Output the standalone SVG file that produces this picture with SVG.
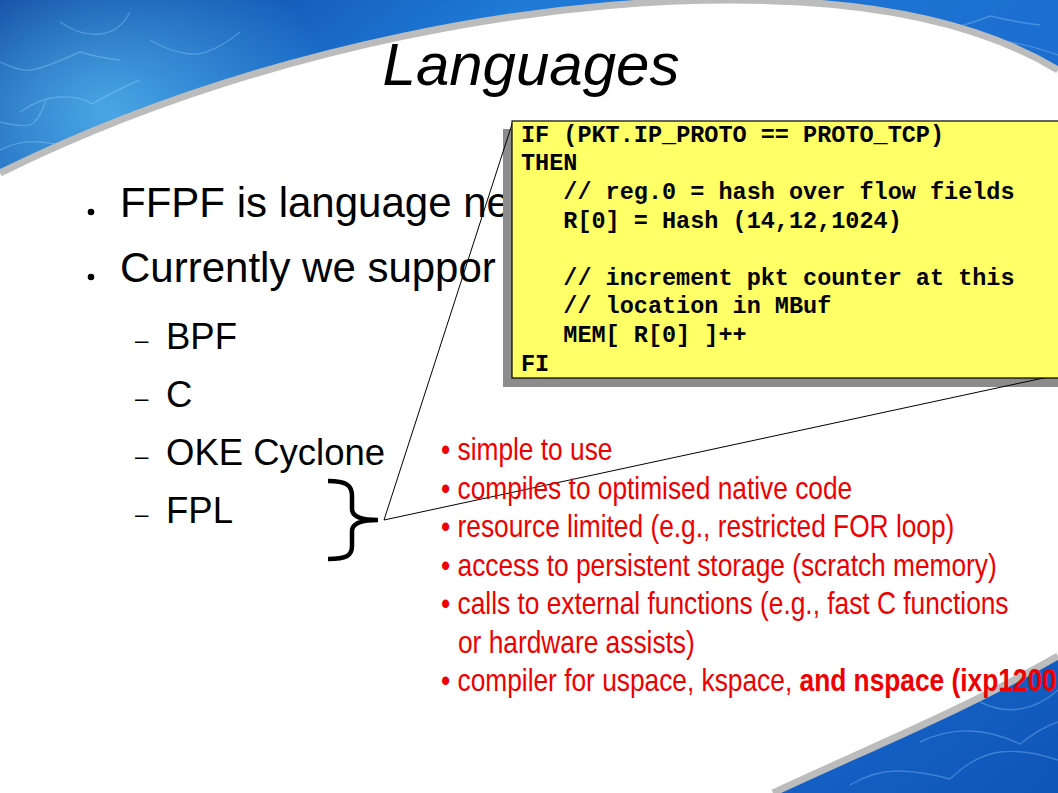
<svg xmlns="http://www.w3.org/2000/svg" width="1058" height="793" viewBox="0 0 1058 793">
<style>
.main{font-family:"Liberation Sans",Arial,sans-serif;fill:#000}
.code{font-family:"Liberation Mono","Courier New",monospace;font-weight:bold;font-size:23.5px;fill:#000}
.red{font-family:"Liberation Sans",Arial,sans-serif;font-size:32px;fill:#ee0000}
.caus{fill:none;stroke:#a8e0ff;stroke-width:1.4;stroke-opacity:0.3;stroke-linejoin:round}
.rim{fill:none;stroke:#bcbcbc;stroke-width:7}
.conn{stroke:#000;stroke-width:1;fill:none}
</style>
<defs>
<linearGradient id="sea" x1="0" y1="0" x2="1" y2="1">
<stop offset="0" stop-color="#0a3f98"/>
<stop offset="0.25" stop-color="#1f7ad8"/>
<stop offset="0.5" stop-color="#1c6fd0"/>
<stop offset="0.75" stop-color="#1a6ad0"/>
<stop offset="1" stop-color="#0f55b8"/>
</linearGradient>
<radialGradient id="glow" cx="0.1" cy="0.14" r="0.22">
<stop offset="0" stop-color="#5cc0f5" stop-opacity="0.75"/>
<stop offset="1" stop-color="#5cc0f5" stop-opacity="0"/>
</radialGradient>
</defs>
<g id="background">
<rect x="0" y="0" width="1058" height="793" fill="url(#sea)"/>
<rect x="0" y="0" width="1058" height="793" fill="url(#glow)"/>
<path class="caus" d="M0,150 Q20,140 40,142 T75,148 Q95,130 110,122 M20,112 Q40,98 60,97 T92,104 Q120,88 140,80 M0,62 Q20,72 32,70 T80,52 Q100,58 120,60 M150,40 Q170,52 190,54 T240,32 M60,22 Q80,36 100,34 T130,12 M0,122 Q25,128 32,124 T46,100"/>
<path class="caus" d="M900,20 Q920,30 940,29 T990,16 Q1015,22 1040,25 M960,50 Q980,40 1000,41 T1058,55"/>
<path class="caus" d="M850,785 Q875,770 900,771 T950,779 Q975,755 1000,752 T1058,760 M920,742 Q945,730 970,731 T1020,744 Q1040,728 1058,722 M980,702 Q1000,712 1020,709 T1058,690"/>
<path d="M0,173 C250,50 560,-12 800,2 C920,9 1000,35 1058,70 L1058,656 C960,712 860,752 773,793 L0,793 Z" fill="#fff"/>
<path class="rim" d="M0,173 C250,50 560,-12 800,2 C920,9 1000,35 1058,70"/>
<path class="rim" d="M1058,656 C960,712 860,752 773,793"/>
</g>
<g id="title">
<text class="main" x="531" y="85" font-size="60" font-style="italic" text-anchor="middle">Languages</text>
</g>
<g id="bullets">
<circle cx="91" cy="212" r="3.3"/>
<text class="main" x="120" y="217" font-size="42">FFPF is language ne</text>
<circle cx="91" cy="277" r="3.3"/>
<text class="main" x="120" y="282" font-size="42">Currently we suppor</text>
<text class="main" x="135" y="348" font-size="24">–</text>
<text class="main" x="166" y="349" font-size="36.5">BPF</text>
<text class="main" x="135" y="406" font-size="24">–</text>
<text class="main" x="166" y="407" font-size="36.5">C</text>
<text class="main" x="135" y="464" font-size="24">–</text>
<text class="main" x="166" y="465" font-size="36.5">OKE Cyclone</text>
<text class="main" x="135" y="522" font-size="24">–</text>
<text class="main" x="166" y="523" font-size="36.5">FPL</text>
</g>
<g id="brace">
<path d="M328,481 C346,481 352,485 352,496 L352,509 C352,516 360,520 378,520 C360,520 352,524 352,531 L352,546 C352,556 346,559 328,559" fill="none" stroke="#000" stroke-width="4.5"/>
</g>
<rect id="code-shadow" x="503" y="129" width="560" height="258" fill="#8c8c8c"/>
<g id="connectors">
<line class="conn" x1="384" y1="520" x2="513" y2="121"/>
<line class="conn" x1="384" y1="520" x2="1062" y2="374"/>
</g>
<g id="code-box">
<rect x="512" y="121" width="560" height="257" fill="#ffff66" stroke="#000" stroke-width="1.2"/>
<text class="code" x="521" y="141.5">IF (PKT.IP_PROTO == PROTO_TCP)</text>
<text class="code" x="521" y="170">THEN</text>
<text class="code" x="563.3" y="199">// reg.0 = hash over flow fields</text>
<text class="code" x="563.3" y="227.5">R[0] = Hash (14,12,1024)</text>
<text class="code" x="563.3" y="284.5">// increment pkt counter at this</text>
<text class="code" x="563.3" y="313">// location in MBuf</text>
<text class="code" x="563.3" y="342">MEM[ R[0] ]++</text>
<text class="code" x="521" y="371">FI</text>
</g>
<g id="notes">
<g transform="translate(441,460) scale(0.822,1)"><text class="red">• simple to use</text></g>
<g transform="translate(441,498.5) scale(0.822,1)"><text class="red">• compiles to optimised native code</text></g>
<g transform="translate(441,537) scale(0.822,1)"><text class="red">• resource limited (e.g., restricted FOR loop)</text></g>
<g transform="translate(441,575.5) scale(0.822,1)"><text class="red">• access to persistent storage (scratch memory)</text></g>
<g transform="translate(441,614) scale(0.822,1)"><text class="red">• calls to external functions (e.g., fast C functions</text></g>
<g transform="translate(458,652.5) scale(0.822,1)"><text class="red">or hardware assists)</text></g>
<g transform="translate(441,691) scale(0.822,1)"><text class="red">• compiler for uspace, kspace, <tspan font-weight="bold">and nspace (ixp1200</tspan></text></g>
</g>
</svg>
